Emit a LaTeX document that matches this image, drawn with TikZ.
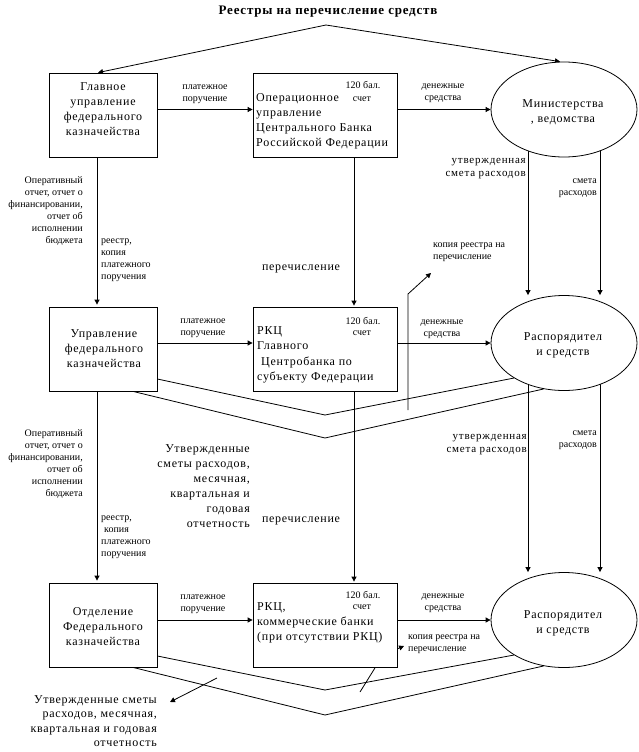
\documentclass[tikz,border=0pt]{standalone}
\usepackage{fontspec}
\setmainfont{Liberation Serif}
\newfontfamily\wsp{Liberation Serif}[LetterSpace=6]
\newfontfamily\msp{Liberation Serif}[LetterSpace=7]
\usetikzlibrary{shapes.geometric,arrows.meta,backgrounds}
\tikzset{
  conn/.style={line width=0.8pt},
  arr/.style={conn,-{Triangle[length=5pt,width=5pt]}},
  boxnode/.style={draw,line width=0.8pt,minimum width=108pt,minimum height=84pt,inner sep=0pt,fill=white},
  ell/.style={draw,ellipse,line width=0.8pt,minimum width=146pt,minimum height=95pt,inner sep=0pt,fill=white},
  bt/.style={inner sep=0pt,font={\wsp\fontsize{12}{15}\selectfont},align=center},
  st/.style={inner sep=0pt,font={\fontsize{10}{12}\selectfont},align=center},
  mt/.style={inner sep=0pt,font={\msp\fontsize{11}{13.5}\selectfont},align=right},
  ttl/.style={inner sep=0pt,font={\wsp\fontsize{13}{15}\selectfont\bfseries}}
}
\begin{document}
\begin{tikzpicture}[x=1pt,y=-1pt]
\useasboundingbox (0,0) rectangle (638,752);
% title
\node[ttl] (title) at (328,12) {Реестры на перечисление средств};
% boxes
\node[boxnode] (b1) at (103,115) {};
\node[boxnode,minimum width=144pt] (b2) at (325,115) {};
\node[boxnode] (b4) at (103,349) {};
\node[boxnode,minimum width=144pt] (b5) at (325,349) {};
\node[boxnode] (b7) at (103,625) {};
\node[boxnode,minimum width=144pt] (b8) at (325,625) {};
\node[ell] (e1) at (564,109.5) {};
\node[ell] (e2) at (564,343) {};
\node[ell] (e3) at (564,620) {};
% box texts
\node[bt] (b1t) at (103,109.5) {Главное\\управление\\федерального\\казначейства};
\node[bt,anchor=west,align=left] (b2t) at (256,121.5) {Операционное\\управление\\Центрального Банка\\Российской Федерации};
\node[st] (b2n) at (363,85) {120 бал.};
\node[st,fill=white,inner xsep=4pt] (b2s) at (362,99) {счет};
\node[bt] (e1t) at (563,112.5) {Министерства\\, ведомства};
\node[bt] (b4t) at (104,349) {Управление\\федерального\\казначейства};
\node[bt,anchor=west,align=left,font={\wsp\fontsize{12}{15.5}\selectfont}] (b5t) at (257,355) {РКЦ\\Главного\\\hspace*{4pt}Центробанка по\\субъекту Федерации};
\node[st] (b5n) at (363,321) {120 бал.};
\node[st] (b5s) at (362,333) {счет};
\node[bt] (e2t) at (563,345.5) {Распорядител\\и средств};
\node[bt] (b7t) at (103,627) {Отделение\\Федерального\\казначейства};
\node[bt,anchor=west,align=left] (b8t) at (257,623) {РКЦ,\\коммерческие банки\\(при отсутствии РКЦ)};
\node[st] (b8n) at (363,595) {120 бал.};
\node[st] (b8s) at (362,607) {счет};
\node[bt] (e3t) at (563,623.5) {Распорядител\\и средств};
% labels row 1
\node[st] (l1) at (205,94) {платежное\\поручение};
\node[st] (l2) at (443,93) {денежные\\средства};
\node[mt,anchor=east] (l3) at (526,168.5) {утвержденная\\смета расходов};
\node[st,anchor=east,align=right] (l4) at (597,188.5) {смета\\расходов};
\node[st,anchor=east,align=right] (l5) at (83,211.5) {Оперативный\\отчет, отчет о\\финансировании,\\отчет об\\исполнении\\бюджета};
\node[st,anchor=west,align=left] (l6) at (101,260) {реестр,\\копия\\платежного\\поручения};
\node[bt] (l7) at (301,269) {перечисление};
\node[st,anchor=west,align=left] (l8) at (433,252.5) {копия реестра на\\перечисление};
% labels row 2
\node[st] (l9) at (203,328) {платежное\\поручение};
\node[st] (l10) at (442,329) {денежные\\средства};
\node[st,anchor=east,align=right] (l11) at (83,464) {Оперативный\\отчет, отчет о\\финансировании,\\отчет об\\исполнении\\бюджета};
\node[st,anchor=west,align=left] (l12) at (101,537) {реестр,\\\hspace*{3pt}копия\\платежного\\поручения};
\node[bt,anchor=east,align=right] (l13) at (250,486) {Утвержденные\\сметы расходов,\\месячная,\\квартальная и\\годовая\\отчетность};
\node[bt] (l14) at (301,521) {перечисление};
\node[mt,anchor=east] (l15) at (527,444.5) {утвержденная\\смета расходов};
\node[st,anchor=east,align=right] (l16) at (597,440) {смета\\расходов};
% labels row 3
\node[st] (l17) at (203,604) {платежное\\поручение};
\node[st] (l18) at (443,603.5) {денежные\\средства};
\node[st,anchor=west,align=left] (l19) at (408,644) {копия реестра на\\перечисление};
\node[bt,anchor=east,align=right,font={\wsp\fontsize{12}{14.3}\selectfont}] (l20) at (157,721) {Утвержденные сметы\\расходов, месячная,\\квартальная и годовая\\отчетность};
% helper coordinates
\coordinate (apex) at (326,25);
\coordinate (z1m) at (325,415);
\coordinate (z2m) at (325,438);
\coordinate (z3m) at (325,690);
\coordinate (z4m) at (325,715);
\coordinate (k1a) at (408,410);
\coordinate (k1b) at (408,294);
\coordinate (k1c) at (431,273);
\coordinate (k2a) at (360,692);
\coordinate (k2b) at (383,655);
\coordinate (k2c) at (404,646);
\coordinate (u1) at (217,678);
\coordinate (u2) at (170,702);
\begin{pgfonlayer}{background}
\fill[white] (0,0) rectangle (638,752);
% top registry arrows
\draw[conn,{Triangle[length=5pt,width=5pt]}-{Triangle[length=5pt,width=5pt]}] ([xshift=-5pt]b1.north) -- (apex) -- ([xshift=-4pt]e1.north);
% horizontal flows
\draw[arr] (b1.east |- e1.center) -- (b2.west |- e1.center);
\draw[arr] (b2.east |- e1.center) -- (e1.west);
\draw[arr] (b4.east |- e2.center) -- (b5.west |- e2.center);
\draw[arr] (b5.east |- e2.center) -- (e2.west);
\draw[arr] (b7.east |- e3.center) -- (b8.west |- e3.center);
\draw[arr] (b8.east |- e3.center) -- (e3.west);
% vertical flows
\draw[arr,shorten >=2pt] ([xshift=-6pt]b1.south) -- ([xshift=-6pt]b4.north);
\draw[arr,shorten >=2pt] ([xshift=-6pt]b4.south) -- ([xshift=-6pt]b7.north);
\draw[arr,shorten >=1pt] ([xshift=29pt]b2.south) -- ([xshift=29pt]b5.north);
\draw[arr,shorten >=1pt] ([xshift=29pt]b5.south) -- ([xshift=29pt]b8.north);
\draw[arr] ([xshift=-36pt]e1.center) -- ([xshift=-36pt]e2.north);
\draw[arr] ([xshift=36pt]e1.center) -- ([xshift=36pt]e2.north);
\draw[arr] ([xshift=-36pt]e2.center) -- ([xshift=-36pt]e3.north);
\draw[arr] ([xshift=36pt]e2.center) -- ([xshift=36pt]e3.north);
% zigzag connections
\draw[conn] ([yshift=-30pt]b4.east) -- (z1m) -- (e2.215);
\draw[conn] ([xshift=30pt]b4.south) -- (z2m) -- (e2.246);
\draw[conn] ([yshift=-31pt]b7.east) -- (z3m) -- (e3.215);
\draw[conn] ([xshift=30pt]b7.south) -- (z4m) -- (e3.246);
% copy of registry arrows
\draw[arr] (k1a) -- (k1b) -- (k1c);
\draw[arr] (k2a) -- (k2b) -- (k2c);
\draw[arr] (u1) -- (u2);
\end{pgfonlayer}
\end{tikzpicture}
\end{document}
